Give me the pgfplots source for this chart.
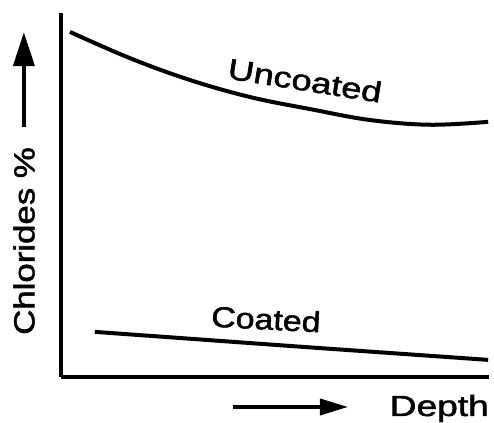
\documentclass[border=0pt]{standalone}
\usepackage{fontspec}
\setmainfont{Liberation Sans}
\newfontfamily\lblfam{Liberation Sans}[FakeBold=1.6]
\usepackage{graphicx}
\usepackage{pgfplots}
\pgfplotsset{compat=1.18}
\usetikzlibrary{arrows.meta}

\newcommand{\lblfont}{\lblfam\fontsize{29bp}{34bp}\selectfont}

\begin{document}
\begin{tikzpicture}
% fix the page to the reference frame (1bp = 1px)
\useasboundingbox (-61bp,-46bp) rectangle (433bp,377bp);
\begin{axis}[
  width=428bp, height=364bp, scale only axis,
  xmin=0, xmax=10, ymin=0, ymax=10,
  axis x line=bottom, axis y line=left,
  axis line style={-, line width=3.5bp},
  ticks=none,
  clip=false,
  xlabel={\tikz[baseline=-9bp]\draw[line width=3.5bp,-{Triangle[length=28bp,width=16bp]}] (0,0)--(115bp,0);\hspace{40bp}\scalebox{1.28}[1]{Depth}},
  xlabel style={at={(axis description cs:1,-0.1071)}, anchor=base east, inner sep=0pt, font=\lblfont},
  ylabel={\scalebox{1.2}[1]{Chlorides \%}\hspace{18bp}\tikz[baseline=-10.5bp]\draw[line width=4bp,-{Triangle[length=34bp,width=21bp]}] (0,0)--(95bp,0);},
  ylabel style={at={(axis description cs:-0.0864,0.1154)}, anchor=west, inner sep=0pt, font=\lblfont},
]
% Uncoated
\addplot[black, line width=4bp, smooth, tension=0.6] coordinates {
(0.21,9.48) (1.61,8.76) (3.01,8.16) (4.42,7.69) (5.82,7.36)
(7.22,7.06) (8.62,6.93) (9.98,7.01)
};
% Coated
\addplot[black, line width=4bp] coordinates {
(0.79,1.24) (5.74,0.82) (9.98,0.47)
};
\node[font=\lblfont, rotate=-9, inner sep=0pt] at (axis cs:5.70,8.15) {\scalebox{1.25}[1]{Uncoated}};
\node[font=\lblfont, rotate=-3, inner sep=0pt] at (axis cs:4.79,1.59) {\scalebox{1.17}[1]{Coated}};
\end{axis}
\end{tikzpicture}
\end{document}
